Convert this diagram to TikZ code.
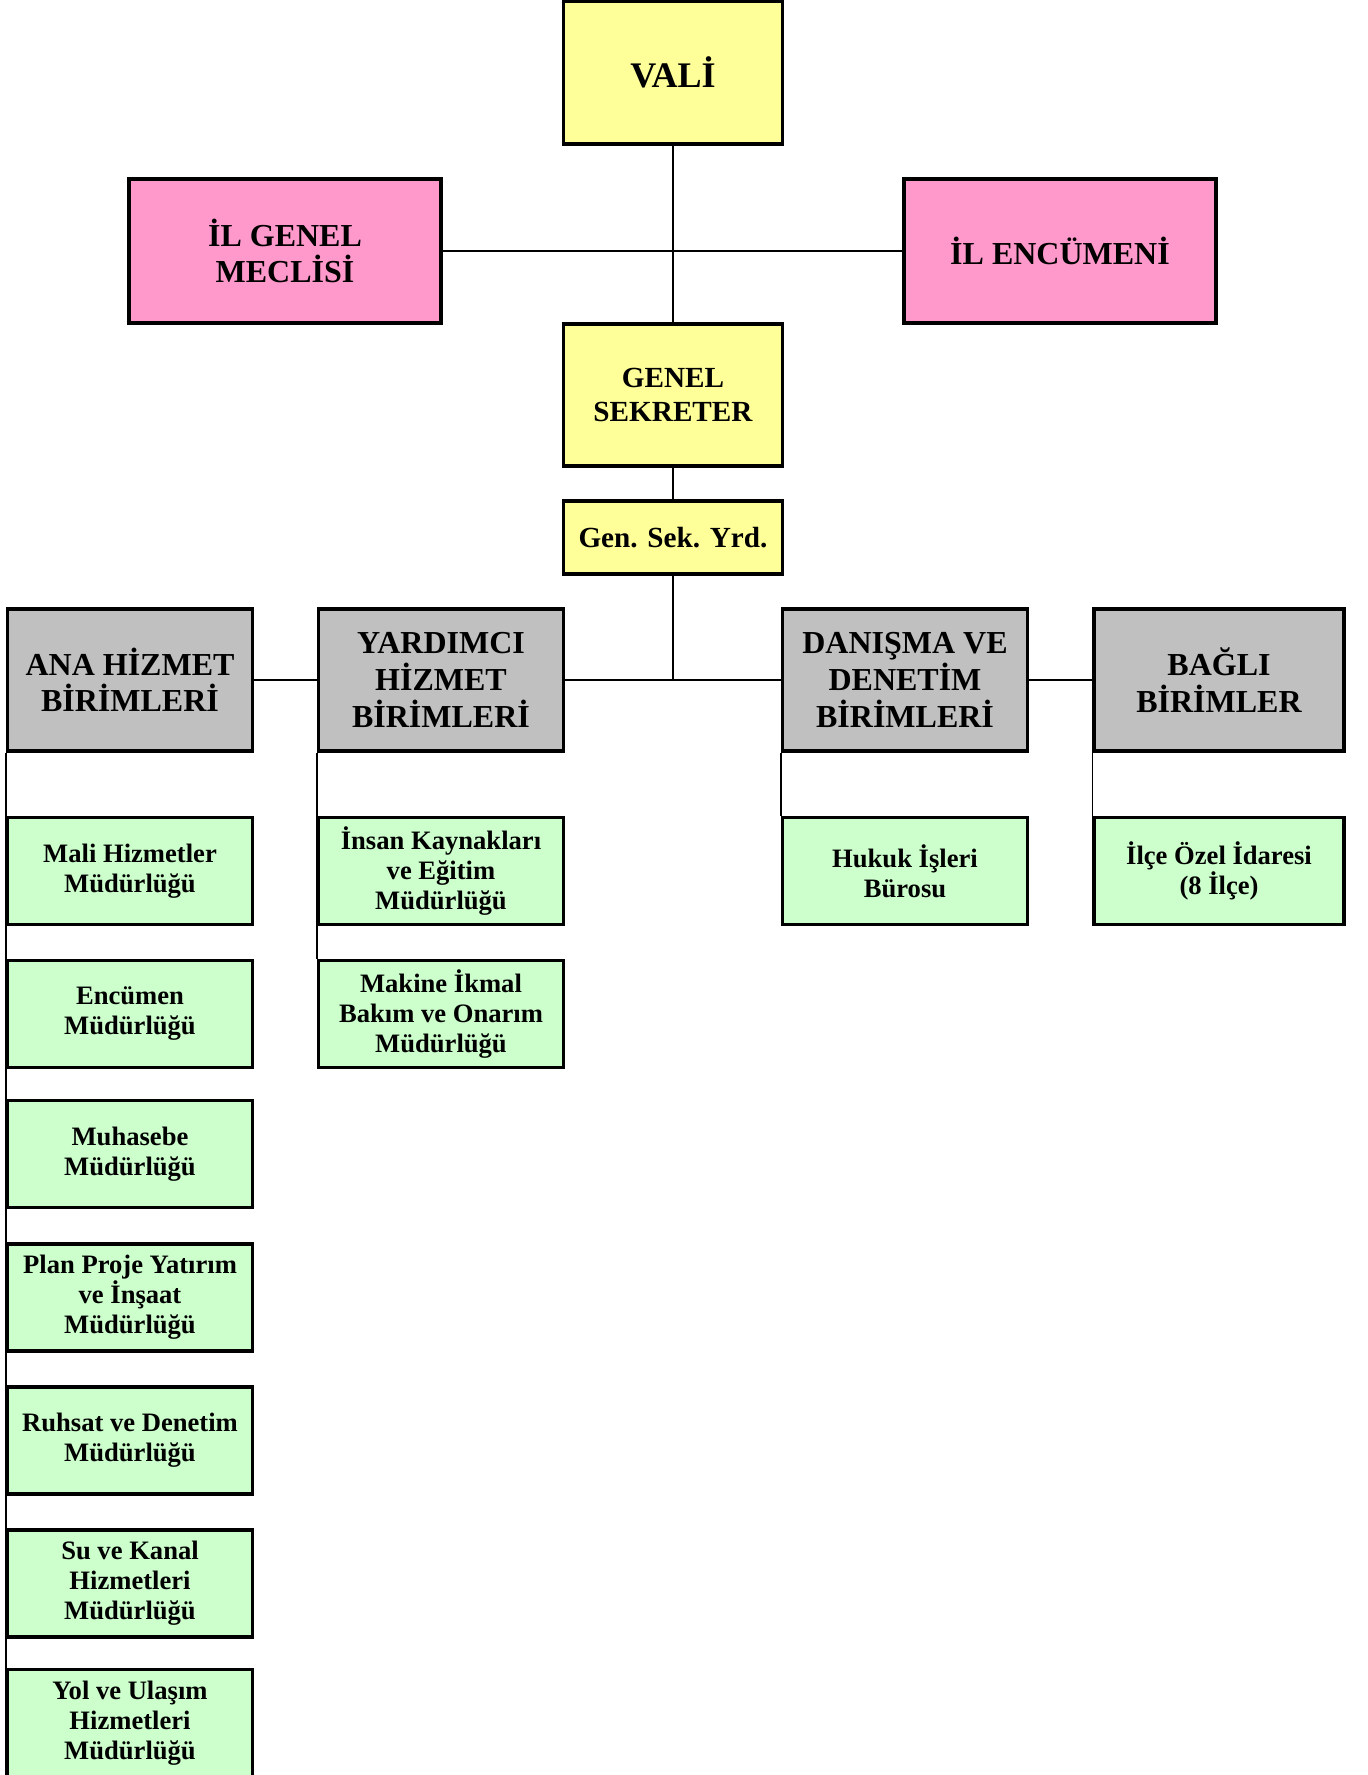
\documentclass[tikz,border=0pt]{standalone}
\usepackage{fontspec}
\setmainfont{Liberation Serif}
\usepackage{xcolor}
\usepackage{tikz}
\usetikzlibrary{positioning}

\definecolor{chiefyellow}{HTML}{FFFF99}
\definecolor{councilpink}{HTML}{FF99CC}
\definecolor{headgray}{HTML}{C0C0C0}
\definecolor{unitgreen}{HTML}{CCFFCC}

\begin{document}
\begin{tikzpicture}[x=0.5pt, y=-0.5pt,
        box/.style={draw, line width=1.6pt, rectangle, inner sep=0pt, align=center},
        chiefbox/.style={box, fill=chiefyellow, minimum width=109.25pt, font=\bfseries\fontsize{14.6}{16.9}\selectfont},
        councilbox/.style={box, fill=councilpink, minimum width=156pt, minimum height=72pt, font=\bfseries\fontsize{16}{18.3}\selectfont},
        headbox/.style={box, fill=headgray, minimum width=122.5pt, minimum height=71pt, font=\bfseries\fontsize{16}{18.3}\selectfont},
        unitbox/.style={box, fill=unitgreen, minimum width=122.5pt, minimum height=53.5pt, font=\bfseries\fontsize{13.3}{15}\selectfont},
        link/.style={line width=0.85pt}
    ]
        \useasboundingbox (0,0) rectangle (1367,1775);

        % Top: governor, councils, secretary
        \node[chiefbox, minimum height=71.5pt, font=\bfseries\fontsize{18}{20}\selectfont] (vali) at (673,72.5) {VALİ};
        \node[councilbox] (meclis) at (285,251) {İL GENEL\\MECLİSİ};
        \node[councilbox] (encumen) at (1060,251) {İL ENCÜMENİ};
        \node[chiefbox, minimum height=71pt] (gensek) at (673,395) {GENEL\\SEKRETER};
        \node[chiefbox, minimum height=36.5pt] (yrd) at (673,537.5) {Gen. Sek. Yrd.};

        % Unit groups (gray row)
        \node[headbox] (ana) at (130,680) {ANA HİZMET\\BİRİMLERİ};
        \node[headbox] (yard) at (441,680) {YARDIMCI\\HİZMET\\BİRİMLERİ};
        \node[headbox] (danisma) at (905,680) {DANIŞMA VE\\DENETİM\\BİRİMLERİ};
        \node[headbox, minimum width=125pt] (bagli) at (1219,680) {BAĞLI\\BİRİMLER};

        % Directorates under ANA HIZMET
        \node[unitbox] (mali) at (130,871) {Mali Hizmetler\\Müdürlüğü};
        \node[unitbox] (encmud) at (130,1014) {Encümen\\Müdürlüğü};
        \node[unitbox] (muhasebe) at (130,1154) {Muhasebe\\Müdürlüğü};
        \node[unitbox] (plan) at (130,1297.5) {Plan Proje Yatırım\\ve İnşaat\\Müdürlüğü};
        \node[unitbox] (ruhsat) at (130,1440.5) {Ruhsat ve Denetim\\Müdürlüğü};
        \node[unitbox] (su) at (130,1583.5) {Su ve Kanal\\Hizmetleri\\Müdürlüğü};
        \node[unitbox] (yol) at (130,1723) {Yol ve Ulaşım\\Hizmetleri\\Müdürlüğü};

        % Directorates under YARDIMCI, DANISMA, BAGLI
        \node[unitbox] (insan) at (441,871) {İnsan Kaynakları\\ve Eğitim\\Müdürlüğü};
        \node[unitbox] (makine) at (441,1014) {Makine İkmal\\Bakım ve Onarım\\Müdürlüğü};
        \node[unitbox] (hukuk) at (905,871) {Hukuk İşleri\\Bürosu};
        \node[unitbox, minimum width=125pt] (ilce) at (1219,871) {İlçe Özel İdaresi\\(8 İlçe)};

        % Links
        \draw[link] (vali.south) -- (gensek.north);
        \draw[link] (meclis.east) -- (encumen.west);
        \draw[link] (gensek.south) -- (yrd.north);
        \draw[link] (yrd.south) -- (yrd.south |- yard.east);
        \draw[link] (ana.east) -- (yard.west);
        \draw[link] (yard.east) -- (danisma.west);
        \draw[link] (danisma.east) -- (bagli.west);

        % Side rails along the left edges
        \draw[link] (ana.south west) -- (yol.south west);
        \draw[link] (yard.south west) -- (makine.north west);
        \draw[link] (danisma.south west) -- (hukuk.north west);
        \draw[link] (bagli.south west) -- (ilce.north west);
    \end{tikzpicture}
\end{document}
